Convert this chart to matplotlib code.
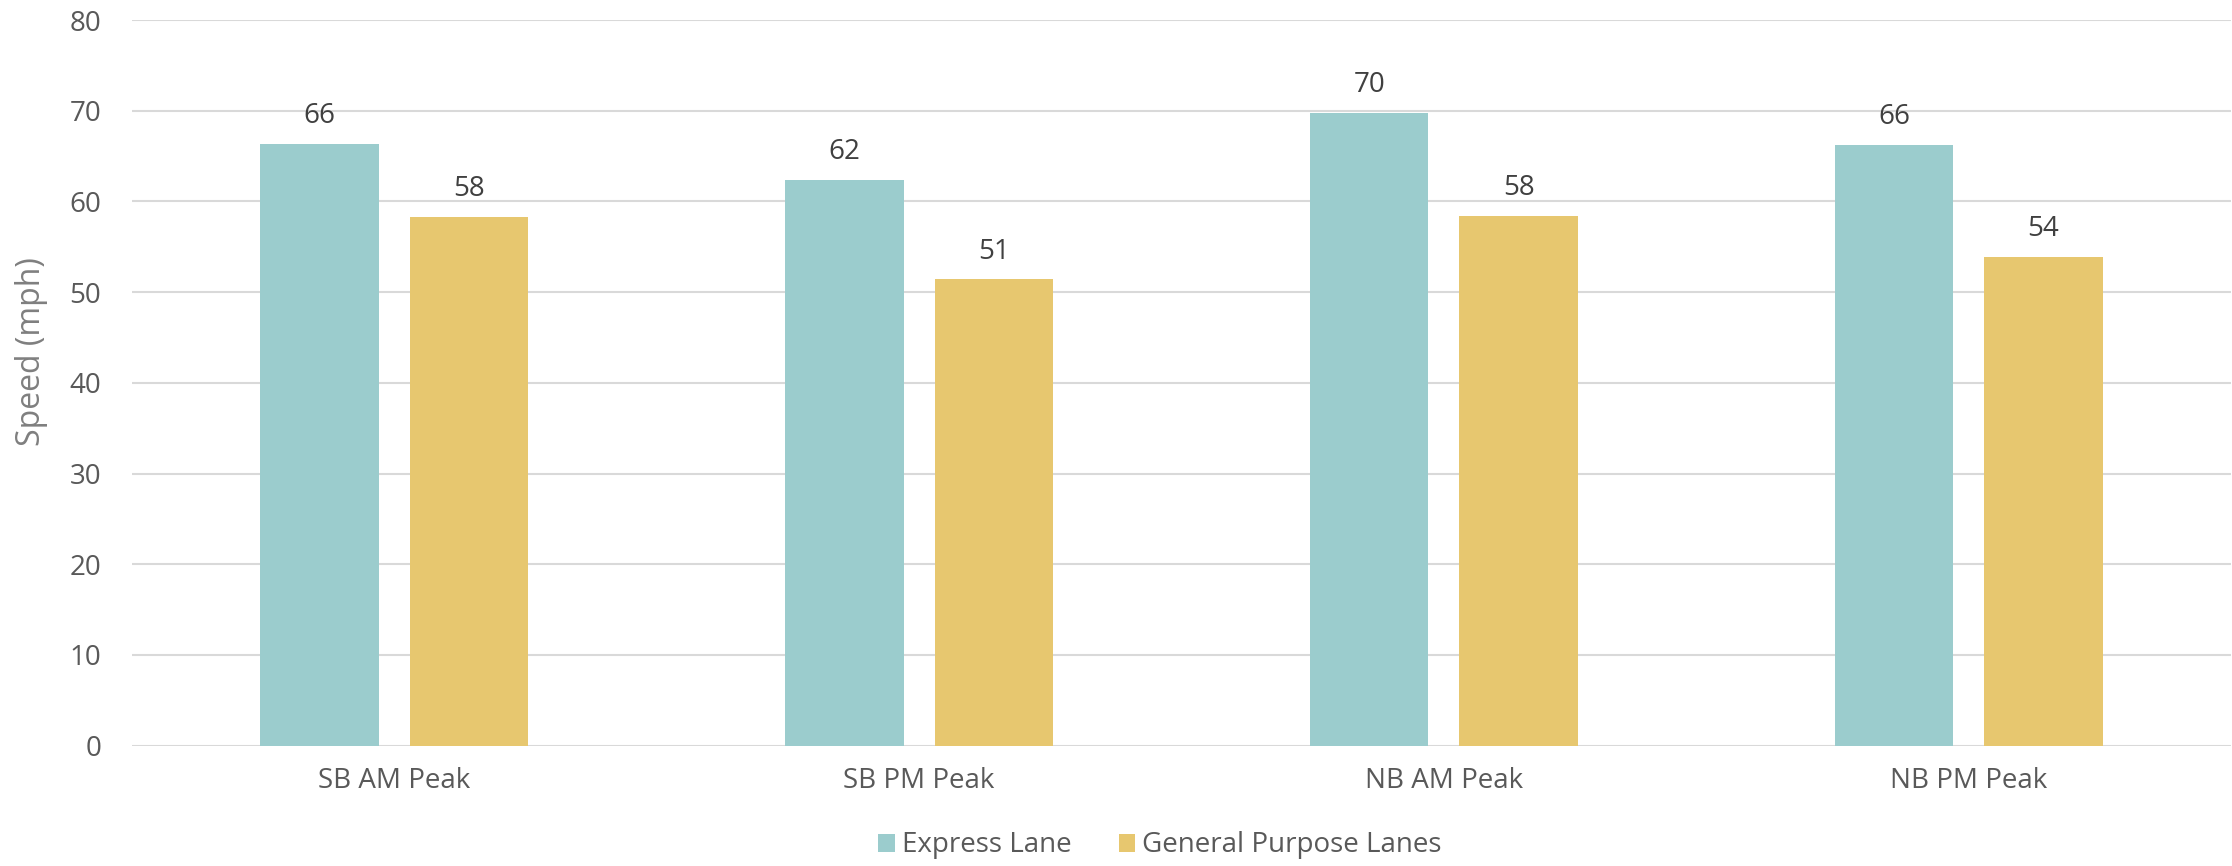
"""Average speeds by direction and peak period: express vs. general purpose lanes."""

import matplotlib.pyplot as plt
import numpy as np
from matplotlib.patches import Patch

categories = ["SB AM Peak", "SB PM Peak", "NB AM Peak", "NB PM Peak"]
express_speed = [66.3, 62.4, 69.8, 66.2]
general_speed = [58.3, 51.4, 58.4, 53.9]
series_names = ["Express Lane", "General Purpose Lanes"]
y_ticks = [0, 10, 20, 30, 40, 50, 60, 70, 80]

EXPRESS_COLOR = "#9BCCCD"
GENERAL_COLOR = "#E7C76F"

plt.rcParams["font.family"] = ["Open Sans", "DejaVu Sans"]

fig = plt.figure(figsize=(22.32, 8.66), dpi=100)
ax = fig.add_axes([0.0591, 0.1389, 0.9405, 0.838])

x = np.arange(len(categories))
width = 0.2256
offset = width / 2 + 0.0296

bars_e = ax.bar(x - offset, express_speed, width, color=EXPRESS_COLOR, zorder=2)
bars_g = ax.bar(x + offset, general_speed, width, color=GENERAL_COLOR, zorder=2)

for bars in (bars_e, bars_g):
    ax.bar_label(bars, labels=[f"{b.get_height():.0f}" for b in bars],
                 padding=10, fontsize=20, color="#404040")

ax.set_xlim(-0.5, len(categories) - 0.5)
ax.set_ylim(0, 80)
ax.set_yticks(y_ticks)
ax.set_xticks(x)
ax.set_xticklabels(categories)
ax.tick_params(axis="both", length=0, labelsize=20, colors="#595959")
ax.tick_params(axis="y", pad=22)
ax.tick_params(axis="x", pad=15)
ax.yaxis.grid(True, color="#D9D9D9", linewidth=1.5, zorder=0)
for side in ("top", "right", "left", "bottom"):
    ax.spines[side].set_visible(False)

ax.set_ylabel("Speed (mph)", fontsize=23, color="#7F7F7F")
ax.yaxis.set_label_coords(-0.0477, 0.5425)
ax.yaxis.label.set_verticalalignment("center")

handles = [Patch(facecolor=EXPRESS_COLOR), Patch(facecolor=GENERAL_COLOR)]
fig.legend(handles, series_names, loc="center", bbox_to_anchor=(0.5197, 0.0237),
           ncol=2, frameon=False, fontsize=20, labelcolor="#595959",
           handlelength=0.6, handleheight=0.6, handletextpad=0.25,
           columnspacing=1.7, borderpad=0, borderaxespad=0)

fig.savefig("out.png", dpi=100)
plt.close(fig)
